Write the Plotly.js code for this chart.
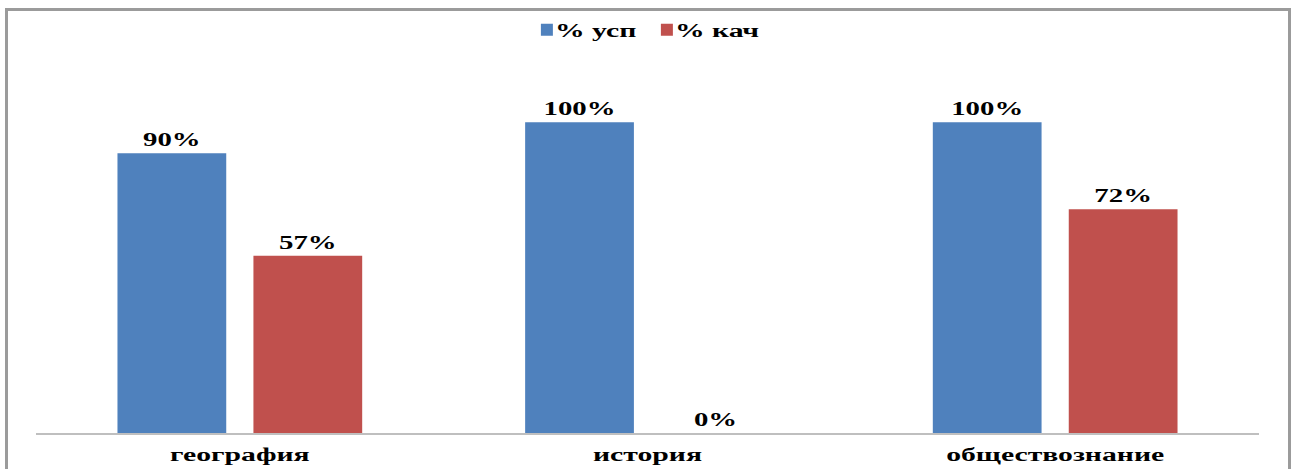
<!DOCTYPE html>
<html>
<head>
<meta charset="utf-8">
<script src="https://cdn.plot.ly/plotly-3.0.1.min.js"></script>
<style>
  html, body { margin: 0; padding: 0; background: #fff; }
  #wrap { position: relative; width: 1293px; height: 469px; overflow: hidden; }
  #chart { position: absolute; left: 0; top: 0; width: 1293px; height: 469px; }
  #frame { position: absolute; left: 5px; top: 8px; width: 1280px; height: 480px;
           border: 3px solid #9b9b9b; pointer-events: none; }
</style>
</head>
<body>
<div id="wrap">
  <div id="chart"></div>
  <div id="frame"></div>
</div>
<script>
const categories = ["география", "история", "обществознание"];
const seriesNames = ["% усп", "% кач"];
const uspValues = [0.90, 1.00, 1.00];
const kachValues = [0.57, 0.00, 0.72];
const colors = ["#4F81BD", "#C0504D"];

const serif = "Liberation Serif, Times New Roman, serif";
const labelFont = { family: serif, size: 18, color: "#000", weight: 700 };

function pct(v) { return Math.round(v * 100) + "%"; }

const traces = [
  {
    type: "bar", name: seriesNames[0], x: categories, y: uspValues,
    marker: { color: colors[0] },
    text: uspValues.map(pct), textposition: "outside", cliponaxis: false,
    textfont: labelFont, hoverinfo: "none"
  },
  {
    type: "bar", name: seriesNames[1], x: categories, y: kachValues,
    marker: { color: colors[1] },
    text: kachValues.map(pct), textposition: "outside", cliponaxis: false,
    textfont: labelFont, hoverinfo: "none"
  }
];

const layout = {
  width: 1293, height: 469,
  margin: { l: 36, r: 34, t: 60, b: 36 },
  paper_bgcolor: "#fff", plot_bgcolor: "#fff",
  barmode: "group", bargap: 0.333, bargroupgap: 0.2,
  showlegend: true,
  legend: {
    orientation: "h", x: 0.4995, xanchor: "center", y: 1.08, yanchor: "middle",
    font: { family: serif, size: 18, color: "#000", weight: 700 },
    itemwidth: 30, entrywidth: 75, traceorder: "normal"
  },
  xaxis: {
    type: "category", showgrid: false, zeroline: false,
    showline: true, linecolor: "#bfbfbf", linewidth: 2,
    ticks: "", ticklabelstandoff: 4,
    tickfont: { family: serif, size: 18, color: "#000", weight: 700 }
  },
  yaxis: {
    range: [0, 1.2], visible: false, showgrid: false, zeroline: false, fixedrange: true
  }
};

function stretchText(selector, factor) {
  document.querySelectorAll(selector).forEach(function (t) {
    const w = t.getComputedTextLength();
    if (w > 0) {
      t.setAttribute("textLength", (w * factor).toFixed(1));
      t.setAttribute("lengthAdjust", "spacingAndGlyphs");
    }
  });
}

Plotly.newPlot("chart", traces, layout, { displayModeBar: false, staticPlot: true }).then(function () {
  stretchText("#chart text.bartext", 1.6);
  stretchText("#chart .xtick text", 1.65);
  stretchText("#chart .legendtext", 1.65);
  document.querySelectorAll("#chart .legendtext").forEach(function (t) {
    const x = parseFloat(t.getAttribute("x") || "0");
    t.setAttribute("x", x - 12);
  });
});
</script>
</body>
</html>
